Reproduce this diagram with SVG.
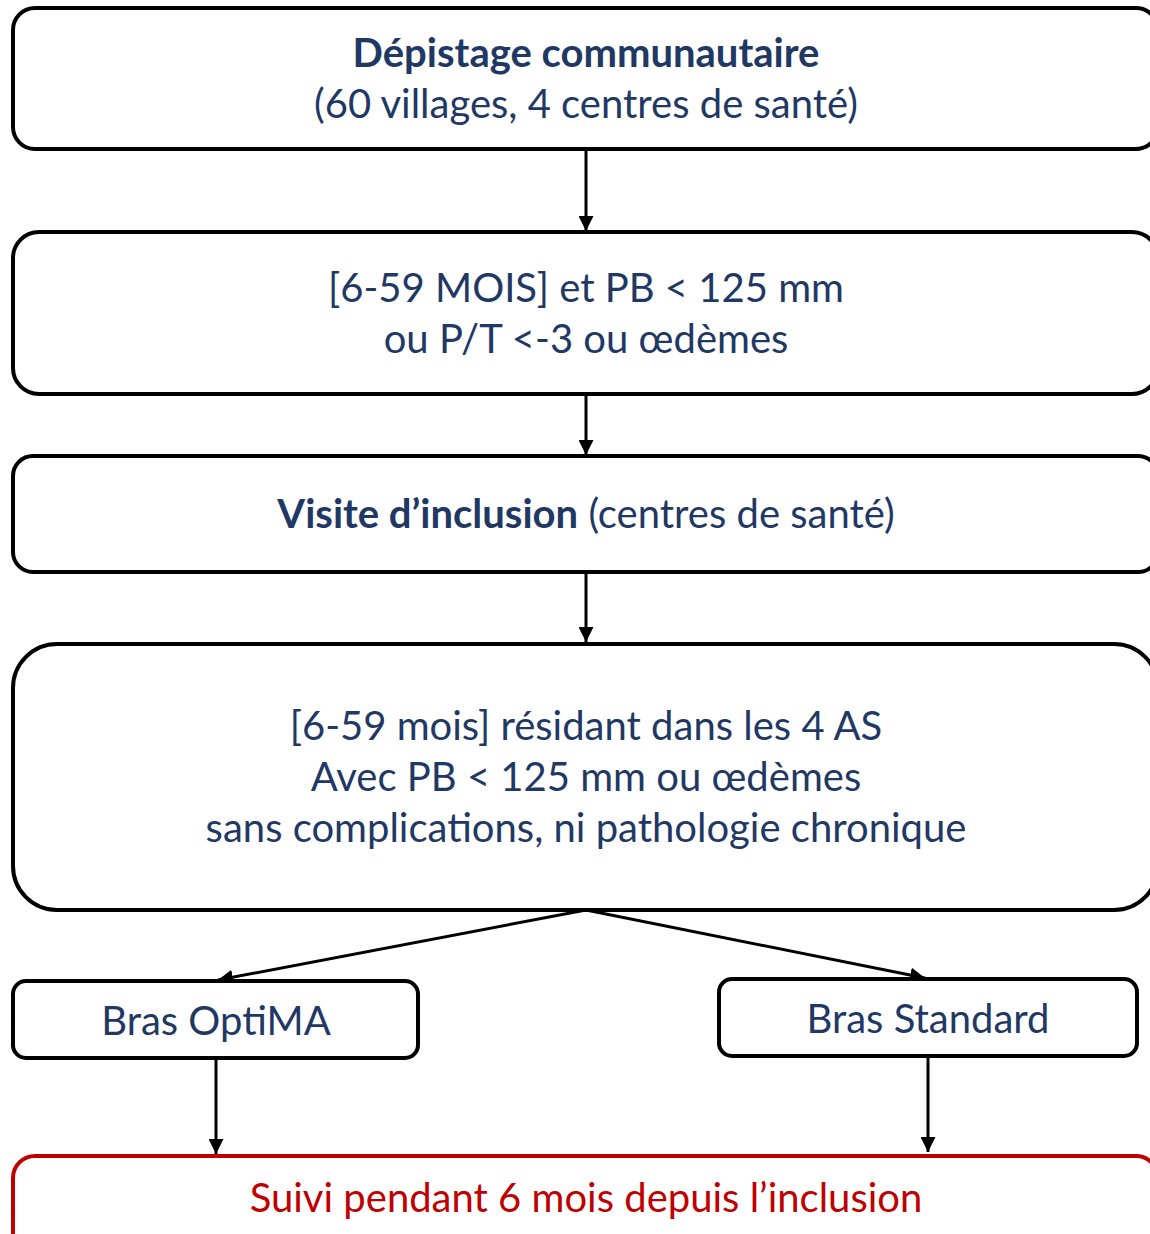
<svg xmlns="http://www.w3.org/2000/svg" width="1150" height="1234" viewBox="0 0 1150 1234">
<defs>
<marker id="ah" viewBox="0 0 10 10" refX="10" refY="5" markerWidth="5" markerHeight="5" orient="auto" markerUnits="strokeWidth">
<path d="M0,0 L10,5 L0,10 z" fill="#000"/>
</marker>
<style>
.box{fill:#fff;stroke:#000;stroke-width:4}
.red{fill:#fff;stroke:#C00000;stroke-width:4}
.t{font-family:Lato,"Open Sans","Liberation Sans",sans-serif;font-size:40px;fill:#1F3864;text-anchor:middle}
.b{font-weight:bold}
.tr{fill:#C00000}
.c{stroke:#000;stroke-width:3;fill:none;marker-end:url(#ah)}
</style>
</defs>
<g id="connectors">
<line class="c" x1="586" y1="150" x2="586" y2="231"/>
<line class="c" x1="586" y1="394" x2="586" y2="455"/>
<line class="c" x1="586" y1="572" x2="586" y2="642"/>
<line class="c" x1="586" y1="910" x2="218" y2="980"/>
<line class="c" x1="586" y1="910" x2="925" y2="978"/>
<line class="c" x1="216" y1="1058" x2="216" y2="1154"/>
<line class="c" x1="928" y1="1056" x2="928" y2="1152"/>
</g>
<g id="n1">
<rect class="box" x="13" y="8" width="1145" height="141" rx="22"/>
<text class="t b" x="586" y="67">Dépistage communautaire</text>
<text class="t" x="586" y="118">(60 villages, 4 centres de santé)</text>
</g>
<g id="n2">
<rect class="box" x="13" y="232" width="1145" height="162" rx="26"/>
<text class="t" x="586" y="302">[6-59 MOIS] et PB &lt; 125 mm</text>
<text class="t" x="586" y="353">ou P/T &lt;-3 ou œdèmes</text>
</g>
<g id="n3">
<rect class="box" x="13" y="456" width="1145" height="116" rx="20"/>
<text class="t" x="586" y="528"><tspan class="b">Visite d’inclusion</tspan> (centres de santé)</text>
</g>
<g id="n4">
<rect class="box" x="13" y="644" width="1145" height="266" rx="44"/>
<text class="t" x="586" y="740">[6-59 mois] résidant dans les 4 AS</text>
<text class="t" x="586" y="791">Avec PB &lt; 125 mm ou œdèmes</text>
<text class="t" x="586" y="842">sans complications, ni pathologie chronique</text>
</g>
<g id="n5">
<rect class="box" x="13" y="981" width="405" height="77" rx="13"/>
<text class="t" x="216" y="1035">Bras OptiMA</text>
</g>
<g id="n6">
<rect class="box" x="719" y="979" width="418" height="77" rx="13"/>
<text class="t" x="928" y="1033">Bras Standard</text>
</g>
<g id="n7">
<rect class="red" x="13" y="1156" width="1145" height="120" rx="22"/>
<text class="t tr" x="586" y="1212">Suivi pendant 6 mois depuis l’inclusion</text>
</g>
</svg>
